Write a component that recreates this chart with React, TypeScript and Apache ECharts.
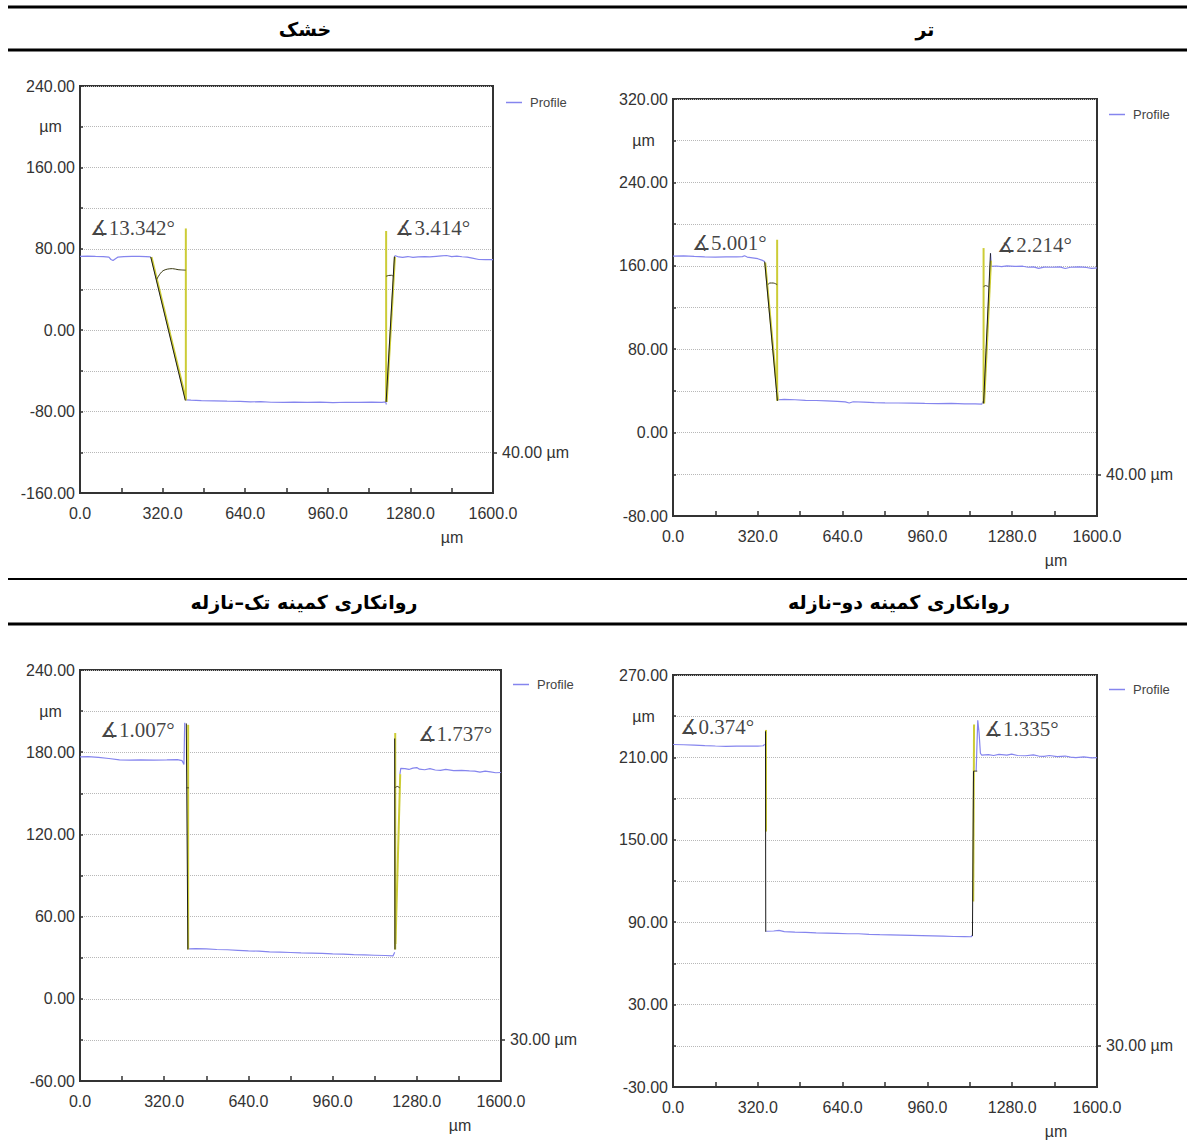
import React, { useEffect, useRef } from "react";
import * as echarts from "echarts";

type Pt = [number, number];

// ---------- headers ----------
const headerTop = ["خشک", "تر"];
const headerBottom = ["روانکاری کمینه تک–نازله", "روانکاری کمینه دو–نازله"];

// ---------- axes ----------
const xMin = 0;
const xMax = 1600;
const xStep = 160;
const yMin = [-160, -80, -60, -30];
const yMax = [240, 320, 240, 270];
const yStep = [40, 40, 30, 30];
const scaleBarValue = [-120, -40, -30, 0];
const scaleBarLabel = ["40.00 µm", "40.00 µm", "30.00 µm", "30.00 µm"];

// ---------- panel 1 : dry ----------
const dryLeft: Pt[] = [[0,72.5],[30,72.8],[60,72.5],[90,72.3],[112,71.8],[120,69.5],[128,68.5],[136,70],[146,71.8],[170,72.3],[200,72.6],[230,72.5],[255,72.4],[274,72]];
const dryFloor: Pt[] = [[410,-68.5],[430,-68.8],[470,-69.3],[520,-69.5],[570,-69.8],[620,-70],[660,-70.5],[700,-70.2],[740,-70.8],[790,-71],[830,-70.6],[880,-71],[930,-70.7],[980,-71.1],[1030,-70.8],[1080,-71],[1130,-70.7],[1170,-70.9],[1184,-70.5],[1187,-73]];
const dryRight: Pt[] = [[1218,72.4],[1222,73.2],[1235,72],[1250,71.6],[1270,72.4],[1290,71.5],[1310,72],[1335,72.3],[1355,72],[1380,72.6],[1400,73],[1420,73.4],[1440,72.3],[1460,72.8],[1480,72.2],[1500,71.8],[1520,70.8],[1545,69.5],[1570,69.3],[1600,69.4]];
const dryWalls: Pt[][] = [[[274,72],[408,-69]], [[1186,-70.5],[1218,72.4]]];
const dryFits: Pt[][] = [[[277,72],[411,-68.5]], [[410,-69],[410,100]], [[1186,97.5],[1186,-70.5]], [[1188,-70.5],[1220,72]]];
const dryArcs: Pt[][] = [[[297,50],[304,53],[312,56],[322,58.5],[338,60],[358,60.5],[380,59.5],[409,59]], [[1186,53],[1196,53.8],[1206,54],[1214,53]]];
const dryAngles = [{ value: [36, 100.4], name: "∡13.342°" }, { value: [1220, 100], name: "∡3.414°" }];

// ---------- panel 2 : wet ----------
const wetLeft: Pt[] = [[0,169.3],[40,169.5],[80,169],[120,168.6],[160,168.4],[200,168.5],[240,168.6],[262,168.8],[270,169.6],[280,168.4],[300,167.6],[320,166.8],[335,165.5],[346,164]];
const wetFloor: Pt[] = [[396,31.5],[420,31.8],[460,31.5],[500,31],[540,30.8],[580,30.4],[620,30],[650,29.4],[665,28.4],[680,29.6],[720,29.2],[760,28.8],[800,28.5],[850,28.4],[900,28.3],[950,28],[1000,27.8],[1050,28],[1100,27.6],[1140,27.5],[1165,27.3],[1170,30]];
const wetRight: Pt[] = [[1198,172],[1202,159.5],[1220,159.8],[1240,159.2],[1260,160],[1290,159.4],[1320,159.6],[1340,158.6],[1360,159],[1380,157.6],[1400,158.8],[1430,158.6],[1460,159],[1480,157.4],[1500,158.6],[1530,158.9],[1560,158.4],[1580,157.6],[1600,158]];
const wetWalls: Pt[][] = [[[346,164],[394,30.5]], [[1172,28],[1198,172]]];
const wetFits: Pt[][] = [[[348,163],[396,31]], [[393,30.5],[393,185]], [[1172,177],[1172,28]], [[1174,28],[1200,165]]];
const wetArcs: Pt[][] = [[[358,142],[366,143.5],[378,143.5],[393,142]], [[1172,140],[1180,141],[1190,140]]];
const wetAngles = [{ value: [70, 182], name: "∡5.001°" }, { value: [1222, 180], name: "∡2.214°" }];

// ---------- panel 3 : single-nozzle MQL ----------
const singleLeft: Pt[] = [[0,176.6],[30,176.8],[70,176.2],[110,175.4],[150,174.4],[190,174.2],[230,174.4],[280,174.2],[330,174.4],[370,174.6],[388,173.8],[395,171],[398,201.5]];
const singleFloor: Pt[] = [[414,36.4],[440,36.6],[480,36.4],[520,36],[560,35.8],[600,35.4],[640,35],[680,34.8],[720,34.2],[760,34],[800,33.8],[840,33.5],[880,33.4],[920,33.2],[960,32.8],[1000,32.6],[1040,32.2],[1080,32],[1120,31.8],[1160,31.6],[1190,31.4],[1196,34]];
const singleRight: Pt[] = [[1216,164],[1219,168.2],[1235,168],[1250,167.4],[1265,168.4],[1280,168.8],[1290,167.6],[1310,167.2],[1330,168],[1350,167],[1370,166.8],[1390,167.4],[1420,166.6],[1450,166.8],[1480,166.4],[1500,166.2],[1520,165.4],[1540,166.2],[1560,165.6],[1580,165],[1600,165.2]];
const singleWalls: Pt[][] = [[[404,201],[410,36]], [[1196,190],[1197,36]]];
const singleFits: Pt[][] = [[[411,200],[411,36]], [[1198,194],[1198,36]], [[1199,40],[1217,164]]];
const singleArcs: Pt[][] = [[[404,154],[414,154]], [[1197,154],[1206,155],[1215,154]]];
const singleAngles = [{ value: [74, 196], name: "∡1.007°" }, { value: [1281, 193.5], name: "∡1.737°" }];

// ---------- panel 4 : two-nozzle MQL ----------
const doubleLeft: Pt[] = [[0,219.4],[40,219.2],[80,219],[120,218.6],[160,218.3],[200,218.1],[240,218.2],[280,218.3],[320,218.2],[340,218.5],[346,219.5]];
const doubleFloor: Pt[] = [[352,83.4],[380,83.6],[400,84],[420,83.2],[460,82.8],[500,82.6],[540,82.2],[580,82],[620,81.8],[660,81.6],[700,81.6],[740,81.2],[780,80.9],[820,80.8],[860,80.6],[900,80.4],[940,80.2],[980,80],[1020,79.8],[1060,79.6],[1100,79.5],[1125,79.4],[1130,80.5]];
const doubleRight: Pt[] = [[1144,200],[1150,237],[1155,228],[1160,213],[1165,211.6],[1190,212],[1210,211.4],[1230,212.2],[1260,211.6],[1278,212.4],[1300,211.4],[1330,211.2],[1360,211.8],[1380,211],[1400,210.8],[1420,211.4],[1450,210.6],[1480,211],[1500,210.2],[1520,209.8],[1550,210.4],[1580,209.6],[1600,209.8]];
const doubleWalls: Pt[][] = [[[349,229],[350,83]], [[1130,80],[1134,200]]];
const doubleFits: Pt[][] = [[[351,230],[351,156]], [[1133,105],[1136,234]]];
const doubleArcs: Pt[][] = [[[1134,200],[1148,200]]];
const doubleAngles = [{ value: [23, 232], name: "∡0.374°" }, { value: [1172, 230.8], name: "∡1.335°" }];

const panelsData = [
  { profile: [dryLeft, dryFloor, dryRight], walls: dryWalls, fits: dryFits, arcs: dryArcs, angles: dryAngles },
  { profile: [wetLeft, wetFloor, wetRight], walls: wetWalls, fits: wetFits, arcs: wetArcs, angles: wetAngles },
  { profile: [singleLeft, singleFloor, singleRight], walls: singleWalls, fits: singleFits, arcs: singleArcs, angles: singleAngles },
  { profile: [doubleLeft, doubleFloor, doubleRight], walls: doubleWalls, fits: doubleFits, arcs: doubleArcs, angles: doubleAngles },
];

// ---------- layout (pixels) ----------
const layout = [
  { left: 80, top: 86, width: 413, height: 407, legendLeft: 506, legendTop: 96 },
  { left: 673, top: 99, width: 424, height: 417, legendLeft: 1109, legendTop: 108 },
  { left: 80, top: 670, width: 421, height: 411, legendLeft: 513, legendTop: 678 },
  { left: 673, top: 675, width: 424, height: 412, legendLeft: 1109, legendTop: 683 },
];

const SANS = "Liberation Sans, Arial, sans-serif";
const AXIS_COLOR = "#333";
const PROFILE_COLOR = "#8585ee";
const FIT_COLOR = "#cccc36";

function buildOption() {
  const grid: any[] = [];
  const xAxis: any[] = [];
  const yAxis: any[] = [];
  const legend: any[] = [];
  const series: any[] = [];

  layout.forEach((L, i) => {
    grid.push({
      left: L.left, top: L.top, width: L.width, height: L.height,
      show: true, borderColor: AXIS_COLOR, borderWidth: 2, backgroundColor: "#fff",
    });
    xAxis.push({
      type: "value", gridIndex: i, min: xMin, max: xMax, interval: xStep,
      axisLine: { show: true, onZero: false, lineStyle: { color: AXIS_COLOR, width: 2 } },
      axisTick: { show: true, inside: true, length: 5, lineStyle: { color: AXIS_COLOR, width: 1.5 } },
      axisLabel: {
        margin: 12, color: AXIS_COLOR, fontSize: 16, fontFamily: SANS,
        formatter: (v: number) => (v % (2 * xStep) === 0 ? v.toFixed(1) : ""),
      },
      splitLine: { show: false },
      name: "µm", nameLocation: "end", nameGap: -41,
      nameTextStyle: { color: AXIS_COLOR, fontSize: 16, fontFamily: SANS, align: "center", verticalAlign: "top", padding: [36, 0, 0, 0] },
    });
    const mn = yMin[i], mx = yMax[i], st = yStep[i];
    yAxis.push({
      type: "value", gridIndex: i, min: mn, max: mx, interval: st, position: "left",
      axisLine: { show: true, onZero: false, lineStyle: { color: AXIS_COLOR, width: 2 } },
      axisTick: { show: true, inside: true, length: 3, lineStyle: { color: AXIS_COLOR, width: 1.5 } },
      axisLabel: {
        margin: 5, color: AXIS_COLOR, fontSize: 16, fontFamily: SANS,
        formatter: (v: number) => {
          if (v === mx - st) return "{u|µm}";
          return (v - mn) % (2 * st) === 0 ? v.toFixed(2) : "";
        },
        rich: { u: { width: 49, align: "center", fontSize: 16, fontFamily: SANS, color: AXIS_COLOR } },
      },
      splitLine: { show: true, lineStyle: { type: "dotted", color: "#b8b8b8", width: 1 } },
    });
    yAxis.push({
      type: "value", gridIndex: i, min: mn, max: mx, position: "right",
      axisLine: { show: true, onZero: false, lineStyle: { color: AXIS_COLOR, width: 2 } },
      axisTick: { show: true, inside: false, length: 4, customValues: [scaleBarValue[i]], lineStyle: { color: AXIS_COLOR, width: 1.5 } },
      axisLabel: {
        show: true, margin: 9, color: AXIS_COLOR, fontSize: 16, fontFamily: SANS,
        customValues: [scaleBarValue[i]],
        formatter: (v: number) => (v === scaleBarValue[i] ? scaleBarLabel[i] : ""),
      },
      splitLine: { show: false },
    });
    legend.push({
      data: ["Profile"], left: L.legendLeft, top: L.legendTop, padding: 0,
      icon: "rect", itemWidth: 16, itemHeight: 1.5, selectedMode: false,
      textStyle: { fontSize: 13, color: "#444", fontFamily: SANS, padding: [0, 0, 0, 3] },
    });

    const d = panelsData[i];
    d.profile.forEach((seg) => {
      series.push({
        type: "line", name: "Profile", xAxisIndex: i, yAxisIndex: 2 * i, data: seg,
        showSymbol: false, symbol: "none", color: PROFILE_COLOR,
        lineStyle: { color: PROFILE_COLOR, width: 1.2 }, z: 3, silent: true,
      });
    });
    d.fits.forEach((seg) => {
      series.push({
        type: "line", name: "fit", xAxisIndex: i, yAxisIndex: 2 * i, data: seg,
        showSymbol: false, symbol: "none", color: FIT_COLOR,
        lineStyle: { color: FIT_COLOR, width: 2 }, z: 4, silent: true,
      });
    });
    d.walls.forEach((seg) => {
      series.push({
        type: "line", name: "wall", xAxisIndex: i, yAxisIndex: 2 * i, data: seg,
        showSymbol: false, symbol: "none", color: "#1c1c1c",
        lineStyle: { color: "#1c1c1c", width: 1 }, z: 5, silent: true,
      });
    });
    d.arcs.forEach((seg) => {
      series.push({
        type: "line", name: "arc", xAxisIndex: i, yAxisIndex: 2 * i, data: seg,
        showSymbol: false, symbol: "none", smooth: 0.3, color: "#3a3a12",
        lineStyle: { color: "#3a3a12", width: 1 }, z: 5, silent: true,
      });
    });
    series.push({
      type: "scatter", name: "angle", xAxisIndex: i, yAxisIndex: 2 * i, data: d.angles,
      symbolSize: 1, itemStyle: { color: "rgba(0,0,0,0)" }, z: 6, silent: true,
      label: {
        show: true, position: "right", distance: 0, formatter: (p: any) => p.name,
        fontFamily: "Liberation Serif, DejaVu Serif, serif", fontSize: 21, color: "#111",
      },
    });
  });

  const HFONT = "bold 19px 'DejaVu Sans', sans-serif";
  const graphic: any[] = [
    { type: "line", shape: { x1: 8, y1: 7, x2: 1187, y2: 7 }, style: { stroke: "#000", lineWidth: 3 } },
    { type: "line", shape: { x1: 8, y1: 50, x2: 1187, y2: 50 }, style: { stroke: "#000", lineWidth: 3 } },
    { type: "line", shape: { x1: 8, y1: 579, x2: 1187, y2: 579 }, style: { stroke: "#000", lineWidth: 2 } },
    { type: "line", shape: { x1: 8, y1: 624, x2: 1187, y2: 624 }, style: { stroke: "#000", lineWidth: 3 } },
    { type: "text", x: 305, y: 29, style: { text: headerTop[0], font: HFONT, fill: "#000", align: "center", verticalAlign: "middle" } },
    { type: "text", x: 925, y: 29, style: { text: headerTop[1], font: HFONT, fill: "#000", align: "center", verticalAlign: "middle" } },
    { type: "text", x: 304, y: 602, style: { text: headerBottom[0], font: HFONT, fill: "#000", align: "center", verticalAlign: "middle" } },
    { type: "text", x: 899, y: 602, style: { text: headerBottom[1], font: HFONT, fill: "#000", align: "center", verticalAlign: "middle" } },
  ];

  return { animation: false, backgroundColor: "#fff", grid, xAxis, yAxis, legend, series, graphic };
}

export default function App() {
  const ref = useRef<HTMLDivElement>(null);
  useEffect(() => {
    if (!ref.current) return;
    const chart = echarts.init(ref.current, undefined, { renderer: "svg" });
    chart.setOption(buildOption() as any);
    return () => chart.dispose();
  }, []);
  return (
    <div
      ref={ref}
      style={{ position: "absolute", left: 0, top: 0, width: 1187, height: 1140, background: "#fff" }}
    />
  );
}
